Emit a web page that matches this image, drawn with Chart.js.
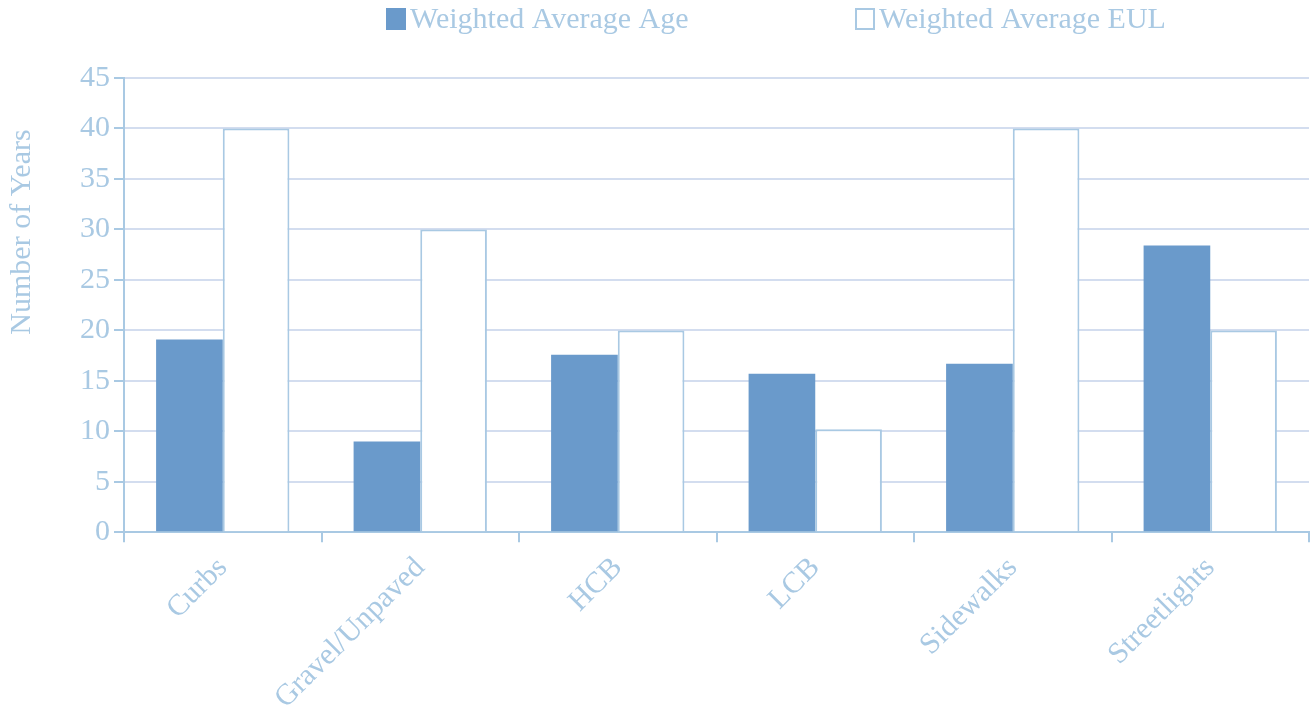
<!DOCTYPE html>
<html>
<head>
<meta charset="utf-8">
<script src="https://cdn.jsdelivr.net/npm/chart.js"></script>
<style>
  html, body { margin: 0; padding: 0; background: #fff; }
  #wrap { width: 1314px; height: 717px; }
</style>
</head>
<body>
<div id="wrap"><canvas id="grafica"></canvas></div>
<script>
// datos
const categorias = ['Curbs', 'Gravel/Unpaved', 'HCB', 'LCB', 'Sidewalks', 'Streetlights'];
const edadPromedio = [19.1, 9.0, 17.6, 15.7, 16.7, 28.4];
const vidaUtil = [40, 30, 20, 10.2, 40, 20];
const nombresSeries = ['Weighted Average Age', 'Weighted Average EUL'];
const tituloEjeY = 'Number of Years';

const azul = '#6a9acb';
const azulClaro = '#a9c9e3';
const rejilla = '#d3ddef';
const fuente = "'Liberation Serif', 'DejaVu Serif', serif";

// leyenda y título del eje dibujados a mano (posiciones como en el original)
const extras = {
    id: 'extras',
    afterDraw(chart) {
        const ctx = chart.ctx;
        const area = chart.chartArea;
        ctx.save();
        ctx.font = '30px ' + fuente;
        ctx.textBaseline = 'middle';
        ctx.textAlign = 'left';
        const y = 19;
        const items = [
            { x: area.left + 262, relleno: true },
            { x: area.left + 731, relleno: false }
        ];
        items.forEach((it, i) => {
            if (it.relleno) {
                ctx.fillStyle = azul;
                ctx.fillRect(it.x, y - 11, 20, 22);
            } else {
                ctx.strokeStyle = azulClaro;
                ctx.lineWidth = 2;
                ctx.strokeRect(it.x + 1, y - 10, 18, 20);
            }
            ctx.fillStyle = azulClaro;
            ctx.fillText(nombresSeries[i], it.x + 24, y + 1);
        });
        // título eje Y
        ctx.translate(22, 232);
        ctx.rotate(-Math.PI / 2);
        ctx.textAlign = 'center';
        ctx.font = '30px ' + fuente;
        ctx.fillText(tituloEjeY, 0, 0);
        ctx.restore();
    }
};

const ctx = document.getElementById('grafica').getContext('2d');
new Chart(ctx, {
    type: 'bar',
    data: {
        labels: categorias,
        datasets: [{
            label: nombresSeries[0],
            data: edadPromedio,
            backgroundColor: azul,
            borderWidth: 0,
            categoryPercentage: 0.675,
            barPercentage: 1.0
        }, {
            label: nombresSeries[1],
            data: vidaUtil,
            backgroundColor: '#ffffff',
            borderColor: azulClaro,
            borderWidth: 2,
            borderSkipped: 'bottom',
            categoryPercentage: 0.675,
            barPercentage: 1.0
        }]
    },
    options: {
        responsive: true,
        maintainAspectRatio: false,
        animation: false,
        layout: { padding: { top: 78, left: 76, right: 5, bottom: -7 } },
        plugins: {
            legend: { display: false },
            tooltip: { enabled: false }
        },
        scales: {
            x: {
                grid: {
                    display: true,
                    drawOnChartArea: false,
                    offset: true,
                    color: azulClaro,
                    lineWidth: 2,
                    tickLength: 10
                },
                border: { color: azulClaro, width: 2 },
                ticks: {
                    color: azulClaro,
                    font: { family: fuente, size: 30 },
                    maxRotation: 45,
                    minRotation: 45,
                    padding: 8
                }
            },
            y: {
                min: 0,
                max: 45,
                grid: {
                    color: rejilla,
                    lineWidth: 2,
                    tickLength: 10,
                    tickColor: azulClaro
                },
                border: { color: azulClaro, width: 2 },
                ticks: {
                    stepSize: 5,
                    color: azulClaro,
                    font: { family: fuente, size: 30 },
                    padding: 4
                }
            }
        }
    },
    plugins: [extras]
});
</script>
</body>
</html>
